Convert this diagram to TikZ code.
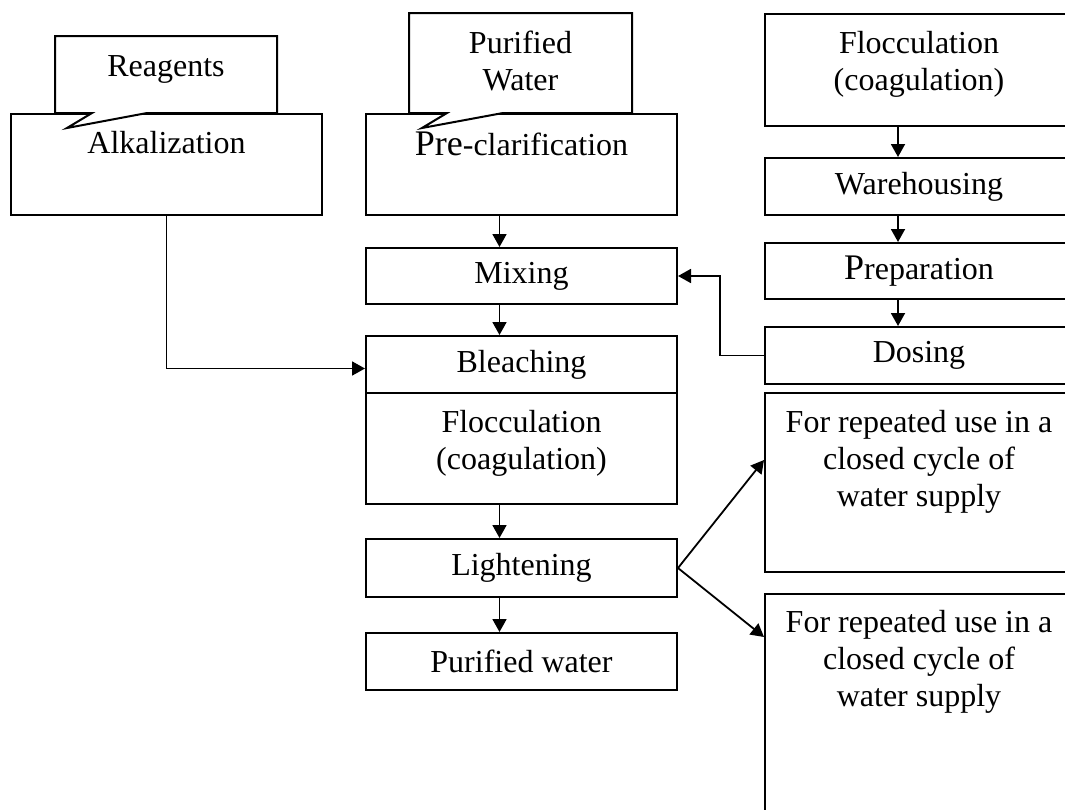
\documentclass[tikz,border=0pt]{standalone}
\usepackage{fontspec}
\setmainfont{Liberation Serif}
\usetikzlibrary{positioning,arrows.meta}
\tikzset{
  box/.style={draw,line width=1pt,inner sep=0pt,anchor=north west,minimum width=155.5pt,align=center},
  rbox/.style={box,minimum width=154pt},
  txt/.style={inner sep=0pt,align=center},
  flow/.style={->,line width=0.9pt}
}
\newcommand{\bigfont}{\fontsize{18}{18}\selectfont}
\begin{document}
\begin{tikzpicture}[x=0.5pt,y=-0.5pt,line join=miter,>={Triangle[length=6.5pt,width=7pt]},font=\fontsize{16}{18.5}\selectfont]
\useasboundingbox (0,0) rectangle (1065,809);
\clip (0,0) rectangle (1065,809);
\node[box,minimum height=50.5pt] (alk) at (10,113) {};
\node[box,minimum height=50.5pt] (pre) at (365,113) {};
\draw[fill=white,line width=1pt] (55,36) -- coordinate[pos=0.5] (reagC) (277,36) -- (277,113) -- (147,113) -- (67,128) -- (92,113) -- (55,113) -- cycle;
\draw[fill=white,line width=1pt] (409,13) -- coordinate[pos=0.5] (pwC) (632,13) -- (632,113) -- (503,113) -- (422,128) -- (447,113) -- (409,113) -- cycle;
\node[txt,below=9.5pt of reagC] (reag) {Reagents};
\node[txt,below=9pt of pwC] (pwT) {Purified\\Water};
\node[txt,below=9pt of alk.north] (alkT) {Alkalization};
\node[txt,below=9.5pt of pre.north] (preT) {{\bigfont Pre}-clarification};
\node[box,minimum height=28pt] (mix) at (365,247) {Mixing};
\node[box,minimum height=28.5pt] (blea) at (365,335) {Bleaching};
\node[box,minimum height=55.5pt] (floc) at (365,392) {};
\node[txt,below=9pt of floc.north] (flocT) {Flocculation\\(coagulation)};
\node[box,minimum height=29pt] (light) at (365,538) {Lightening};
\node[box,minimum height=28.5pt] (pwat) at (365,632) {Purified water};
\node[rbox,minimum height=56pt] (rfloc) at (764,13) {};
\node[txt,below=9pt of rfloc.north] (rflocT) {Flocculation\\(coagulation)};
\node[rbox,minimum height=28.5pt] (ware) at (764,157) {Warehousing};
\node[rbox,minimum height=28pt] (prep) at (764,242) {{\bigfont P}reparation};
\node[rbox,minimum height=28.5pt] (dose) at (764,326) {Dosing};
\node[rbox,minimum height=89.5pt] (use1) at (764,392) {};
\node[txt,below=9pt of use1.north] (use1T) {For repeated use in a\\closed cycle of\\water supply};
\node[rbox,minimum height=118.5pt] (use2) at (764,593) {};
\node[txt,below=8.5pt of use2.north] (use2T) {For repeated use in a\\closed cycle of\\water supply};
\draw[flow] ([xshift=-11pt]pre.south) -- ([xshift=-11pt]mix.north);
\draw[flow] ([xshift=-11pt]mix.south) -- ([xshift=-11pt]blea.north);
\draw[flow] ([xshift=-11pt]floc.south) -- ([xshift=-11pt]light.north);
\draw[flow] ([xshift=-11pt]light.south) -- ([xshift=-11pt]pwat.north);
\draw[flow] (alk.south) |- ([yshift=-2pt]blea.west);
\draw[flow] ([xshift=-10.5pt]rfloc.south) -- ([xshift=-10.5pt]ware.north);
\draw[flow] ([xshift=-10.5pt]ware.south) -- ([xshift=-10.5pt]prep.north);
\draw[flow] ([xshift=-10.5pt]prep.south) -- ([xshift=-10.5pt]dose.north);
\draw[flow] (dose.west) -- ++(-22pt,0) |- (mix.east);
\draw[flow] (light.east) -- ([yshift=-34pt]use1.north west);
\draw[flow] (light.east) -- ([yshift=-22pt]use2.north west);
\end{tikzpicture}
\end{document}
